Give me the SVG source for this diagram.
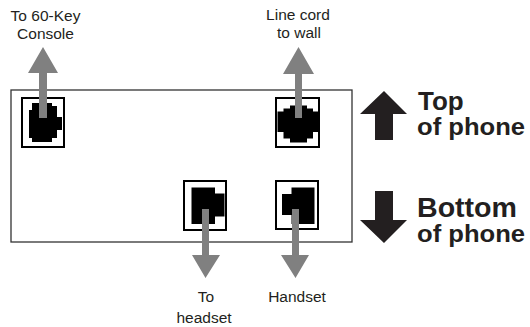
<svg xmlns="http://www.w3.org/2000/svg" width="530" height="327" viewBox="0 0 530 327">
<style>
.lbl{font-family:"Liberation Sans",Arial,sans-serif;font-size:15.5px;fill:#231f20;text-anchor:middle}
.big{font-family:"Liberation Sans",Arial,sans-serif;font-weight:bold;fill:#231f20}
.jack{fill:#fff;stroke:#000;stroke-width:2}
.plug{fill:#000}
.cord{fill:#808080}
.dir{fill:#231f20}
</style>
<rect width="530" height="327" fill="#fff"/>
<g id="phone">
<rect x="11" y="90" width="341" height="152" fill="none" stroke="#333" stroke-width="1.3"/>
</g>
<g id="jack-console">
<rect class="jack" x="22" y="98" width="42" height="49"/>
<polygon class="plug" points="32,103 52,103 52,106 57,106 57,117 62,117 62,130 57,130 57,138 52,138 52,142 32,142 32,138 29,138 29,110 32,110"/>
</g>
<g id="jack-line">
<rect class="jack" x="276" y="98" width="43" height="49"/>
<polygon class="plug" points="290,105.5 307,105.5 307,108.5 313,108.5 313,111.5 318.5,111.5 318.5,132 313,132 313,138.5 307,138.5 307,142.5 290,142.5 290,138.5 283.5,138.5 283.5,132 277.5,132 277.5,111.5 283.5,111.5 283.5,108.5 290,108.5"/>
</g>
<g id="jack-headset">
<rect class="jack" x="184" y="181" width="42" height="49"/>
<polygon class="plug" points="191.5,187.5 215,187.5 215,193.5 224.5,193.5 224.5,216.5 215,216.5 215,224 191.5,224"/>
</g>
<g id="jack-handset">
<rect class="jack" x="276" y="181" width="42" height="48"/>
<polygon class="plug" points="291.5,187.5 314.5,187.5 314.5,224 291.5,224 291.5,215 282,215 282,194 291.5,194"/>
</g>
<g id="connectors">
<polygon class="cord" points="39,118 39,73 28,73 43,47 58,73 47,73 47,118"/>
<polygon class="cord" points="295,118 295,74 283,74 298.5,47 314,74 302,74 302,118"/>
<polygon class="cord" points="202,209 209,209 209,255 220,255 205.5,278 192,255 202,255"/>
<polygon class="cord" points="292,209 299,209 299,255 309,255 295.5,278 281,255 292,255"/>
</g>
<g id="label-console">
<text class="lbl" x="45.5" y="21">To 60-Key</text>
<text class="lbl" x="45.5" y="39">Console</text>
</g>
<g id="label-line">
<text class="lbl" x="298" y="20">Line cord</text>
<text class="lbl" x="299" y="38">to wall</text>
</g>
<g id="label-headset">
<text class="lbl" x="206" y="302">To</text>
<text class="lbl" x="204" y="323">headset</text>
</g>
<g id="label-handset">
<text class="lbl" x="297" y="302">Handset</text>
</g>
<g id="top-of-phone">
<polygon class="dir" points="375,140 375,114 360,114 384,91 407,114 393,114 393,140"/>
<text class="big" x="418" y="110" font-size="26">Top</text>
<text class="big" x="417" y="135" font-size="23" textLength="108" lengthAdjust="spacingAndGlyphs">of phone</text>
</g>
<g id="bottom-of-phone">
<polygon class="dir" points="375,191 393,191 393,220 407,220 384,243 360,220 375,220"/>
<text class="big" x="417" y="217" font-size="27" textLength="100" lengthAdjust="spacingAndGlyphs">Bottom</text>
<text class="big" x="417" y="242" font-size="23" textLength="108" lengthAdjust="spacingAndGlyphs">of phone</text>
</g>
</svg>
